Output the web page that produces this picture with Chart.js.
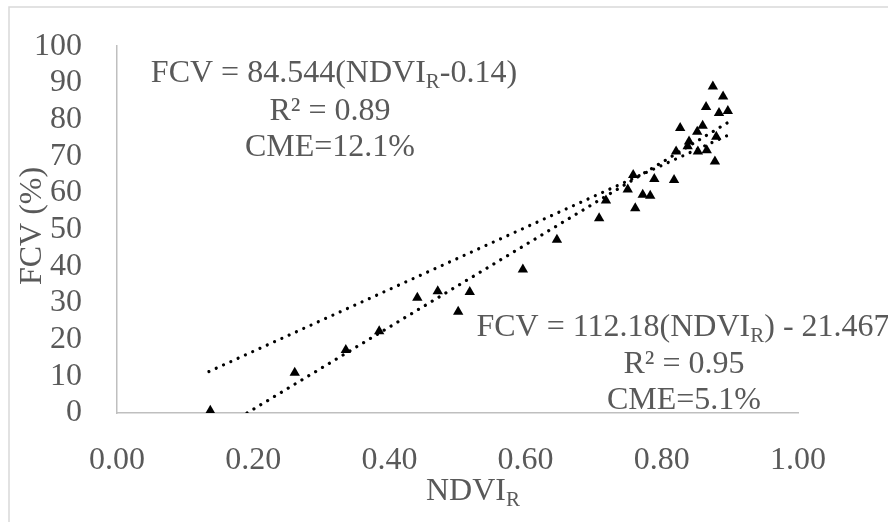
<!DOCTYPE html>
<html>
<head>
<meta charset="utf-8">
<script src="https://cdn.jsdelivr.net/npm/chart.js@4.4.1/dist/chart.umd.min.js"></script>
<style>
html, body { margin: 0; padding: 0; background: #fff; }
</style>
</head>
<body>
<canvas id="c" width="888" height="522"></canvas>
<script>
// measured points (NDVI_R, FCV %)
var ndvi = [0.137, 0.261, 0.336, 0.385, 0.441, 0.471, 0.501, 0.518, 0.596, 0.646,
            0.708, 0.718, 0.750, 0.758, 0.761, 0.772, 0.783, 0.789, 0.818, 0.821,
            0.827, 0.838, 0.840, 0.852, 0.853, 0.860, 0.865, 0.866, 0.875, 0.878,
            0.880, 0.884, 0.890, 0.897];
var fcv  = [0.6, 11.0, 17.2, 22.3, 31.4, 33.2, 27.6, 33.0, 39.1, 47.2,
            53.1, 57.9, 60.9, 64.9, 55.8, 59.5, 59.2, 63.8, 63.5, 71.3,
            77.7, 72.7, 74.0, 76.7, 71.3, 78.3, 83.4, 71.6, 89.0, 68.6,
            75.3, 81.8, 86.3, 82.3];

// trend line end points
var fitAX = [0.135, 0.897], fitAY = [11.3, 75.7];
var fitBX = [0.191, 0.897], fitBY = [0, 79.2];

var grey = '#595959';
var serif = '"Liberation Serif", "Times New Roman", serif';
var big = 32, small = 21;

function pts(xs, ys) {
    var out = [];
    for (var i = 0; i < xs.length; i++) out.push({x: xs[i], y: ys[i]});
    return out;
}

// draw text made of parts, part[1] true = subscript
function drawParts(ctx, parts, cx, y) {
    var w = 0;
    parts.forEach(function (p) {
        ctx.font = (p[1] ? small : big) + 'px ' + serif;
        w += ctx.measureText(p[0]).width;
    });
    var x = cx - w / 2;
    ctx.textAlign = 'left';
    ctx.textBaseline = 'alphabetic';
    parts.forEach(function (p) {
        ctx.font = (p[1] ? small : big) + 'px ' + serif;
        ctx.fillText(p[0], x, p[1] ? y + 6 : y);
        x += ctx.measureText(p[0]).width;
    });
}

var textPlugin = {
    id: 'texts',
    beforeDraw: function (chart) {
        var ctx = chart.ctx;
        ctx.save();
        ctx.strokeStyle = '#d9d9d9';
        ctx.lineWidth = 1.5;
        ctx.strokeRect(9, 7, 950, 600);
        ctx.restore();
    },
    afterDraw: function (chart) {
        var ctx = chart.ctx;
        ctx.save();
        ctx.fillStyle = grey;
        drawParts(ctx, [['FCV = 84.544(NDVI', 0], ['R', 1], ['-0.14)', 0]], 334, 82);
        drawParts(ctx, [['R\u00b2 = 0.89', 0]], 330, 120);
        drawParts(ctx, [['CME=12.1%', 0]], 330, 156);

        drawParts(ctx, [['FCV = 112.18(NDVI', 0], ['R', 1], [') - 21.467', 0]], 683, 336);
        drawParts(ctx, [['R\u00b2 = 0.95', 0]], 684, 373);
        drawParts(ctx, [['CME=5.1%', 0]], 684, 409);

        drawParts(ctx, [['NDVI', 0], ['R', 1]], 473, 500);

        ctx.translate(33, 226);
        ctx.rotate(-Math.PI / 2);
        ctx.font = big + 'px ' + serif;
        ctx.textAlign = 'center';
        ctx.textBaseline = 'middle';
        ctx.fillText('FCV (%)', 0, 0);
        ctx.restore();
    }
};

var dotted = {
    showLine: true,
    pointRadius: 0,
    borderColor: '#000',
    borderWidth: 3.2,
    borderDash: [0.01, 8],
    borderCapStyle: 'round',
    fill: false
};

new Chart(document.getElementById('c'), {
    type: 'scatter',
    data: {
        datasets: [
            {
                data: pts(ndvi, fcv),
                pointStyle: 'triangle',
                pointRadius: 6,
                backgroundColor: '#000',
                borderColor: '#000',
                borderWidth: 0
            },
            Object.assign({data: pts(fitAX, fitAY)}, dotted),
            Object.assign({data: pts(fitBX, fitBY)}, dotted)
        ]
    },
    options: {
        responsive: false,
        devicePixelRatio: 1,
        animation: false,
        layout: {padding: {left: 0, top: 40, right: 90, bottom: 0}},
        plugins: {legend: {display: false}, tooltip: {enabled: false}},
        scales: {
            x: {
                type: 'linear',
                min: 0,
                max: 1,
                afterFit: function (s) { s.height = 109; },
                grid: {display: false},
                border: {display: true, color: '#bfbfbf', width: 1.5},
                ticks: {
                    stepSize: 0.2,
                    autoSkip: false,
                    maxRotation: 0,
                    padding: 20,
                    color: grey,
                    font: {family: serif, size: big},
                    callback: function (v) { return v.toFixed(2); }
                }
            },
            y: {
                min: 0,
                max: 100,
                afterFit: function (s) { s.width = 117; },
                grid: {display: false},
                border: {display: true, color: '#bfbfbf', width: 1.5},
                ticks: {
                    stepSize: 10,
                    autoSkip: false,
                    padding: 27,
                    color: grey,
                    font: {family: serif, size: big}
                }
            }
        }
    },
    plugins: [textPlugin]
});
</script>
</body>
</html>
